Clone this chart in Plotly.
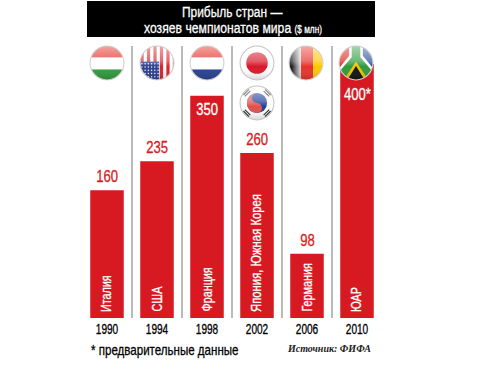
import base64
import json
import plotly.graph_objects as go

years = ["1990", "1994", "1998", "2002", "2006", "2010"]
countries = ["Италия", "США", "Франция", "Япония, Южная Корея", "Германия", "ЮАР"]
value_labels = ["160", "235", "350", "260", "98", "400*"]
# The printed bars are not to scale with their labels: heights
bar_heights = [201, 247, 350, 260, 101, 400]
inside_label = [False, False, True, False, False, True]

W, H = 490, 371
L, R, B = 82, 108, 53
PW, PH = W - L - R, H - B
SANS = "Liberation Sans, Arial, sans-serif"
RED = "#d71a21"

def px(x):
    return (x - L) / PW

def py(y):
    return (PH - y) / PH

DEFS = """<defs>
<clipPath id='c'><circle cx='50' cy='50' r='47'/></clipPath>
<linearGradient id='g' x1='0' y1='0' x2='0' y2='1'>
<stop offset='0' stop-color='#fff' stop-opacity='.6'/><stop offset='.45' stop-color='#fff' stop-opacity='.3'/>
<stop offset='.6' stop-color='#fff' stop-opacity='0'/><stop offset='1' stop-color='#000' stop-opacity='.2'/></linearGradient>
<linearGradient id='h' x1='0' y1='0' x2='1' y2='0'>
<stop offset='0' stop-color='#000'/><stop offset='.3' stop-color='#222'/><stop offset='1' stop-color='#e4e4e4'/></linearGradient>
</defs>"""

def flag(body, ring="#c9c9c9", ring_w=3):
    overlay = "<rect width='100' height='100' fill='url(#g)' clip-path='url(#c)'/>"
    svg = (f"<svg xmlns='http://www.w3.org/2000/svg' width='100' height='100' viewBox='0 0 100 100'>{DEFS}"
           f"<g clip-path='url(#c)'>{body}</g>{overlay}"
           f"<circle cx='50' cy='50' r='47' fill='none' stroke='{ring}' stroke-width='{ring_w}'/></svg>")
    return "data:image/svg+xml;base64," + base64.b64encode(svg.encode()).decode()

def rect(x, y, w, h, c):
    return f"<rect x='{x}' y='{y}' width='{w}' height='{h}' fill='{c}'/>"

hungary = rect(0, 0, 100, 35, "#e2231a") + rect(0, 35, 100, 33, "#fff") + rect(0, 68, 100, 32, "#2f9a3c")
netherlands = rect(0, 0, 100, 35, "#e2231a") + rect(0, 35, 100, 33, "#fff") + rect(0, 68, 100, 32, "#25408f")
usa = rect(0, 0, 100, 100, "#fff") + "".join(rect(x, 0, 9, 100, "#d8232a") for x in range(4, 100, 18))
usa += rect(0, 46, 56, 54, "#2b3f8f") + "".join(
    f"<circle cx='{x}' cy='{y}' r='2' fill='#fff'/>" for x in range(8, 56, 9) for y in range(52, 100, 9))
germany = rect(0, 0, 36, 100, "url(#h)") + rect(36, 0, 34, 100, "#e6332a") + rect(70, 0, 30, 100, "#fdc800")
japan = rect(0, 0, 100, 100, "#fff") + "<circle cx='50' cy='50' r='30' fill='#d7182a'/>"
korea = rect(0, 0, 100, 100, "#fff")
korea += "<circle cx='50' cy='50' r='28' fill='#1f3f9c'/>"
korea += "<path d='M50 22 A28 28 0 0 0 50 78 A14 14 0 0 0 50 50 A14 14 0 0 1 50 22Z' fill='#e2504a'/>"
for tx, ty, rot in [(20, 20, -45), (80, 20, 45), (20, 80, 45), (80, 80, -45)]:
    korea += (f"<g transform='translate({tx} {ty}) rotate({rot})' fill='#222'>"
              "<rect x='-11' y='-7' width='22' height='3'/><rect x='-11' y='-1.5' width='22' height='3'/>"
              "<rect x='-11' y='4' width='22' height='3'/></g>")
sa = rect(0, 0, 50, 100, "#e2231a") + rect(50, 0, 50, 100, "#2b4fa0")
sa += "<polygon points='31,0 69,0 69,30 100,68 100,100 0,100 0,68 31,30' fill='#fff'/>"
sa += "<polygon points='38,0 62,0 62,34 100,78 100,100 0,100 0,78 38,34' fill='#2f9a3c'/>"
sa += "<polygon points='50,46 86,100 14,100' fill='#f6c400'/>"
sa += "<polygon points='50,58 76,100 24,100' fill='#111'/>"

flags = [(107, 63, hungary, "#d0d0d0"), (157, 63, usa, "#d0d0d0"), (207, 63, netherlands, "#d0d0d0"),
         (257, 63, japan, "#c4c4c4"), (257, 103, korea, "#c4c4c4"), (306, 63, germany, "#d0d0d0"),
         (356, 63, sa, "#d0d0d0")]
FS = 36
images = [dict(source=flag(b, ring=c), xref="paper", yref="paper", x=px(x - FS / 2), y=py(y - FS / 2),
               sizex=FS / PW, sizey=FS / PH, sizing="stretch", xanchor="left", yanchor="top", layer="above")
          for x, y, b, c in flags]

fig = go.Figure(go.Bar(
    x=years, y=bar_heights, marker=dict(color=RED, line=dict(width=0)), width=0.67, hoverinfo="skip",
))

annotations = []
for i, (h, lab, ins, name) in enumerate(zip(bar_heights, value_labels, inside_label, countries)):
    annotations.append(dict(
        xref="x", yref="y", x=i, y=h, text=lab, showarrow=False, xanchor="center",
        yanchor="top" if ins else "bottom", yshift=(-19 if i == 5 else -2) if ins else 2,
        font=dict(family=SANS, size=17, color="white" if ins else RED)))
    annotations.append(dict(
        xref="x", yref="y", x=i, y=0, text=name, showarrow=False, textangle=-90, align="left",
        xanchor="center", yanchor="bottom", yshift=4, xshift=-1,
        font=dict(family=SANS, size=14, color="white")))

def note(x, y, text, size, color="black", family=SANS, anchor="center"):
    annotations.append(dict(xref="paper", yref="paper", x=px(x), y=py(y), text=text, showarrow=False,
                            xanchor=anchor, align=anchor if anchor == "left" else "center", yanchor="middle",
                            font=dict(family=family, size=size, color=color)))

note(232, 12, "Прибыль стран —", 15.5, "white")
note(142, 28, "хозяев чемпионатов мира <span style='font-size:10.5px'>($ млн)</span>", 15.5, "white", anchor="left")
note(89, 349.5, "* предварительные данные", 15, anchor="left")
note(285, 348, "<b><i>Источник: ФИФА</i></b>", 10, "#222", "Liberation Serif, serif", "left")

shapes = [dict(type="rect", xref="paper", yref="paper", x0=px(87), x1=px(375), y0=py(1), y1=py(37),
               fillcolor="black", line=dict(width=0), layer="below")]
for i in range(5):
    shapes.append(dict(type="line", xref="x", yref="paper", x0=i + 0.5, x1=i + 0.5, y0=0, y1=py(46),
                       line=dict(color="#a3a3a3", width=1.5), layer="below"))

fig.update_layout(
    width=W, height=H, margin=dict(l=L, r=R, t=0, b=B, pad=0, autoexpand=False),
    paper_bgcolor="white", plot_bgcolor="white", showlegend=False,
    images=images, shapes=shapes, annotations=annotations,
    xaxis=dict(type="category", range=[-0.5, 5.5], showgrid=False, zeroline=False, showline=False, ticks="",
               ticklabelstandoff=1, tickfont=dict(family=SANS, size=14, color="black")),
    yaxis=dict(range=[0, PH / 0.635], visible=False, showgrid=False, zeroline=False),
)

# No condensed face is installed: narrow the real SVG text to the printed widths
target_px = {"Япония, Южная Корея": 118, "хозяев чемпионатов мира ($ млн)": 178}
post = """
document.body.style.margin='0';
(function(){
  var targets = %s;
  function squeeze(){
    document.querySelectorAll('.annotation-text, .xtick text').forEach(function(t){
      if (t.dataset.sq) return;
      var s = (t.textContent || '');
      if (s.indexOf('Источник') >= 0) return;
      var len = t.getComputedTextLength();
      if (!len) return;
      var tick = t.closest('.xtick');
      var goal = targets[s] || len*(tick ? 0.72 : 0.77);
      t.setAttribute('lengthAdjust','spacingAndGlyphs');
      t.setAttribute('textLength', goal);
      t.style.stroke = t.style.fill; t.style.strokeWidth = '0.3px';
      t.dataset.sq = '1';
    });
  }
  squeeze(); setTimeout(squeeze, 50); setTimeout(squeeze, 300);
})();
""" % json.dumps(target_px, ensure_ascii=False)
fig.write_html("out.html", config=dict(displayModeBar=False), post_script=post)
